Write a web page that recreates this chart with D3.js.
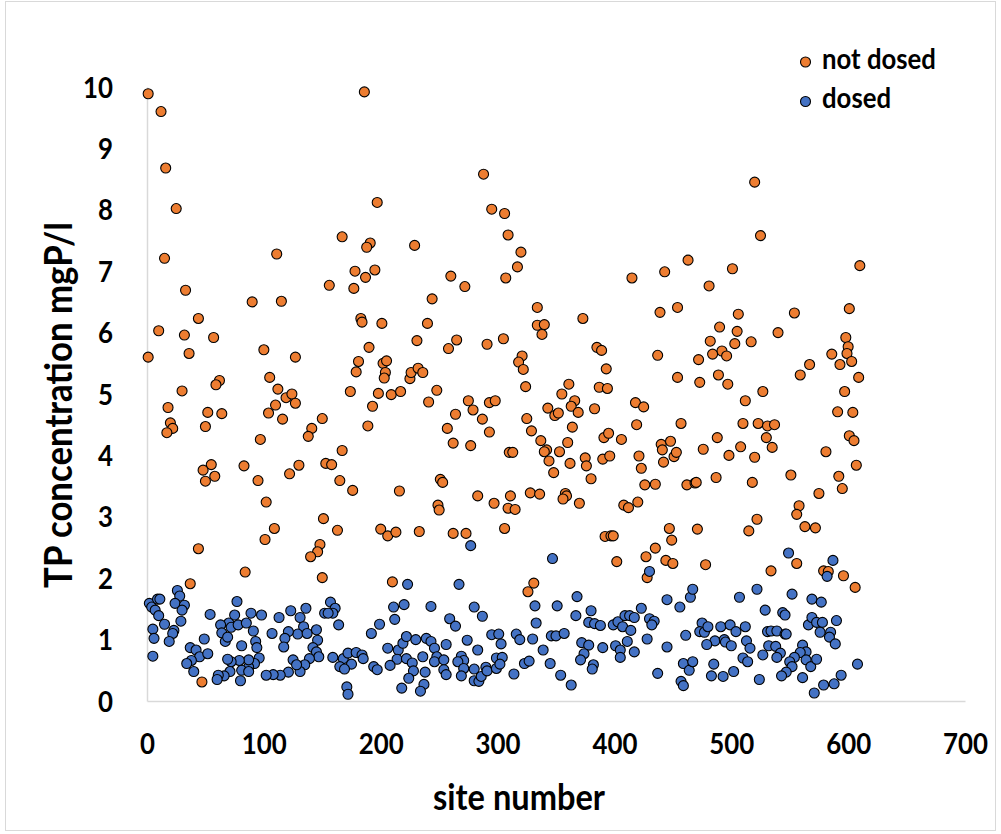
<!DOCTYPE html>
<html>
<head>
<meta charset="utf-8">
<script src="https://cdn.jsdelivr.net/npm/d3@7"></script>
<style>
  html, body { margin: 0; padding: 0; background: #fff; }
  svg { display: block; }
  text { font-family: "Lato", "Open Sans", sans-serif; font-weight: bold; fill: #000; }
</style>
</head>
<body>
<svg id="chart" width="1001" height="834"></svg>
<script>
// ---- data: [site number, TP concentration mgP/l] ----
const notDosed = [
  [1,9.89],[12,9.60],[16,8.68],[25,8.02],[15,7.21],[111,7.28],[33,6.69],[90,6.50],[115,6.51],[44,6.23],
  [10,6.03],[32,5.96],[57,5.92],[1,5.60],[36,5.66],[100,5.72],[127,5.60],[62,5.22],[59,5.15],[105,5.27],
  [30,5.05],[112,5.08],[119,4.94],[124,5.00],
  [18,4.78],[20,4.53],[22,4.44],[17,4.37],[52,4.70],[64,4.68],[50,4.47],[104,4.69],[110,4.82],[116,4.59],
  [127,4.85],[97,4.26],[150,4.60],[141,4.44],[138,4.31],[55,3.85],[48,3.76],[58,3.66],[50,3.58],[83,3.83],
  [95,3.59],[122,3.70],[130,3.84],[153,3.87],[102,3.24],[109,2.81],[101,2.63],[151,2.97],[148,2.55],[146,2.43],
  [140,2.35],[150,2.01],[44,2.48],[84,2.10],[37,1.91],[47,0.31],
  [186,9.92],[288,8.58],[197,8.12],[295,8.01],[306,7.94],[309,7.59],[167,7.56],[191,7.46],[188,7.39],[229,7.42],
  [178,7.00],[195,7.02],[187,6.90],[156,6.77],[177,6.72],[260,6.92],[272,6.75],[307,6.89],[244,6.55],[183,6.23],
  [184,6.17],[201,6.15],[240,6.15],[190,5.76],[231,5.87],[258,5.74],[265,5.88],[291,5.81],[305,5.90],[181,5.53],
  [179,5.36],[202,5.50],[205,5.54],[204,5.35],[203,5.26],[225,5.25],[226,5.35],[232,5.42],[236,5.35],[174,5.04],
  [198,5.01],[209,4.99],[217,5.04],[248,5.06],[241,4.87],[275,4.89],[293,4.86],[298,4.89],[193,4.80],
  [189,4.48],[264,4.67],[279,4.74],[287,4.59],[257,4.44],[293,4.38],[262,4.20],[277,4.16],[167,4.08],[158,3.85],
  [165,3.59],[176,3.43],[216,3.42],[251,3.61],[253,3.56],[249,3.19],[250,3.11],[283,3.34],[297,3.22],[309,3.14],
  [310,4.05],[163,2.78],[200,2.80],[206,2.69],[213,2.75],[233,2.76],[262,2.73],[273,2.73],[306,2.81],[210,1.94],
  [320,7.31],[317,7.07],[415,6.89],[443,6.99],[463,7.18],[334,6.41],[334,6.12],[340,6.13],[338,5.97],[373,6.23],
  [439,6.33],[454,6.41],[385,5.76],[389,5.71],[437,5.63],[321,5.62],[318,5.52],[322,5.40],[393,5.41],[454,5.27],
  [324,5.12],[361,5.16],[355,5.00],[366,4.89],[387,5.11],[394,5.09],
  [418,4.86],[425,4.79],[343,4.77],[349,4.65],[352,4.69],[363,4.80],[369,4.70],[383,4.76],[325,4.60],[329,4.40],
  [364,4.46],[337,4.24],[342,4.09],[340,4.06],[344,3.91],[348,3.72],[353,4.06],[360,4.21],[362,3.87],[375,3.96],
  [376,3.83],[380,3.62],[391,4.29],[395,4.36],[406,4.26],[390,3.94],[396,3.99],[419,4.50],[457,4.52],[421,3.99],
  [423,3.79],[440,4.18],[448,4.23],[441,4.09],[442,3.89],[451,3.98],[453,4.05],[426,3.52],[435,3.53],[462,3.52],
  [469,3.55],[313,4.05],[311,3.34],[315,3.12],[328,3.39],[336,3.37],[358,3.38],[359,3.34],[356,3.29],[370,3.22],
  [408,3.19],[412,3.15],[420,3.24],[392,2.68],[397,2.69],[399,2.69],[447,2.81],[449,2.62],[435,2.49],[427,2.35],
  [402,2.27],[444,2.29],[450,2.24],[428,2.01],[331,1.92],[326,1.78],
  [520,8.45],[525,7.58],[610,7.09],[501,7.04],[481,6.76],[506,6.30],[554,6.32],[601,6.39],[490,6.09],[505,6.02],
  [482,5.86],[503,5.82],[517,5.85],[540,6.00],[492,5.70],[484,5.65],[496,5.62],[472,5.56],[598,5.92],[600,5.77],
  [599,5.66],[603,5.53],[586,5.65],[593,5.48],[567,5.48],[559,5.31],[609,5.27],[473,5.19],[489,5.31],[497,5.16],
  [527,5.04],[512,4.89],[597,5.04],
  [591,4.71],[604,4.70],[510,4.52],[523,4.52],[531,4.48],[537,4.50],[488,4.29],[530,4.29],[601,4.32],[605,4.24],
  [476,4.10],[498,4.00],[508,4.14],[520,3.97],[535,4.13],[581,4.06],[470,3.56],[487,3.64],[518,3.56],[551,3.68],
  [592,3.66],[595,3.46],[607,3.84],[575,3.38],[558,3.18],[556,3.04],[563,2.84],[572,2.82],[471,2.80],[522,2.96],
  [515,2.77],[478,2.22],[556,2.24],[534,2.12],[579,2.12],[583,2.11],[596,2.04],[606,1.85]
];

const dosed = [
  [26,1.80],[28,1.71],[24,1.59],[32,1.56],[30,1.48],[29,1.30],[23,1.15],[22,1.10],[19,0.97],[2,1.59],
  [4,1.53],[9,1.66],[11,1.66],[7,1.48],[10,1.39],[15,1.25],[5,1.17],[6,1.02],[5,0.73],[54,1.41],
  [77,1.62],[75,1.40],[70,1.27],[63,1.24],[64,1.11],[67,0.97],[69,1.04],[72,1.20],[78,1.24],[85,1.27],
  [89,1.43],[98,1.40],[91,1.14],[93,0.97],[94,0.87],[81,0.90],[96,0.70],[92,0.61],[87,0.55],[81,0.50],
  [87,0.67],[79,0.66],[72,0.64],[69,0.68],[71,0.48],[66,0.41],[61,0.42],[60,0.35],[80,0.33],[87,0.48],
  [49,1.01],[37,0.87],[42,0.83],[45,0.72],[52,0.77],[38,0.66],[34,0.61],[40,0.48],[107,1.10],[113,1.36],
  [123,1.47],[136,1.51],[131,1.36],[134,1.21],[129,1.09],[121,1.13],[118,1.02],[117,0.88],[137,1.10],[145,1.16],
  [146,0.99],[142,0.87],[145,0.80],[147,0.72],[139,0.69],[135,0.59],[131,0.48],[125,0.67],[128,0.59],[121,0.47],
  [114,0.42],[108,0.43],[102,0.42],[152,1.43],
  [277,2.53],[223,1.90],[267,1.90],[157,1.61],[161,1.51],[159,1.43],[155,1.43],[164,1.24],[211,1.53],[220,1.57],
  [212,1.33],[199,1.25],[192,1.10],[243,1.54],[259,1.34],[264,1.22],[280,1.53],[287,1.38],[159,0.71],[168,0.69],
  [172,0.78],[175,0.60],[165,0.56],[169,0.52],[179,0.79],[184,0.75],[185,0.69],[194,0.56],[197,0.51],[171,0.23],
  [172,0.11],[206,0.86],[215,0.83],[219,0.94],[222,1.05],[230,1.00],[214,0.68],[222,0.69],[208,0.58],[227,0.62],
  [228,0.49],[224,0.37],[218,0.21],[236,0.72],[238,0.47],[237,0.27],[234,0.16],[239,1.02],[243,0.97],[246,0.86],
  [248,0.72],[246,0.64],[254,0.67],[254,0.51],[256,0.43],[256,0.92],[274,0.99],[283,0.83],[269,0.73],[271,0.66],
  [266,0.64],[271,0.53],[269,0.41],[280,0.52],[280,0.33],[284,0.32],[286,0.40],[290,0.55],[291,0.49],[295,1.08],
  [301,1.09],[303,0.93],[299,0.70],[304,0.71],[299,0.53],[302,0.60],
  [347,2.32],[430,2.11],[368,1.70],[332,1.55],[351,1.55],[333,1.27],[367,1.39],[380,1.47],[378,1.28],[383,1.26],
  [388,1.23],[399,1.24],[403,1.29],[409,1.39],[413,1.39],[417,1.36],[407,1.21],[414,1.15],[423,1.51],[430,1.34],
  [434,1.30],[432,1.24],[445,1.65],[456,1.53],[465,1.69],[467,1.82],[316,1.09],[319,1.00],[330,1.01],[346,1.06],
  [350,1.06],[357,1.10],[339,0.83],[372,0.95],[378,0.91],[374,0.77],[371,0.67],[390,0.87],[401,0.90],[405,0.83],
  [411,0.97],[405,0.71],[417,0.80],[428,1.01],[445,0.88],[461,1.07],[323,0.61],[327,0.65],[345,0.61],[314,0.44],
  [354,0.42],[363,0.26],[382,0.59],[381,0.52],[437,0.45],[459,0.61],[464,0.50],[467,0.64],[457,0.32],[459,0.25],
  [549,2.41],[587,2.29],[582,2.03],[522,1.82],[507,1.69],[552,1.74],[569,1.66],[577,1.61],[529,1.48],[544,1.44],
  [546,1.40],[566,1.24],[569,1.36],[573,1.28],[578,1.28],[590,1.31],[576,1.12],[585,1.12],[584,1.04],[589,0.93],
  [475,1.27],[473,1.13],[477,1.12],[480,1.21],[491,1.21],[499,1.24],[504,1.13],[512,1.21],[486,0.98],[494,1.00],
  [495,0.96],[500,0.90],[479,0.92],[513,0.98],[516,0.86],[531,1.13],[534,1.14],[539,1.14],[546,1.09],[547,1.09],
  [532,0.90],[538,0.89],[542,0.78],[539,0.71],[527,0.75],[510,0.70],[514,0.64],[485,0.60],[483,0.41],[493,0.40],
  [502,0.48],[524,0.35],[561,0.91],[564,0.80],[559,0.79],[554,0.71],[550,0.64],[552,0.56],[547,0.47],[543,0.41],
  [564,0.67],[568,0.56],[573,0.68],[561,0.38],[594,0.42],[588,0.28],[579,0.26],[571,0.13],[608,0.60]
];

const xTicks = [0, 100, 200, 300, 400, 500, 600, 700];
const yTicks = [0, 1, 2, 3, 4, 5, 6, 7, 8, 9, 10];
const seriesNames = ["not dosed", "dosed"];
const xTitle = "site number";
const yTitle = "TP concentration mgP/l";

// ---- layout ----
const svg = d3.select("#chart");
const colors = { "not dosed": "#ED7D31", "dosed": "#4472C4" };
const K = 1.12; // vertical stretch of text (condensed look of the original font)

const x = d3.scaleLinear().domain([0, 700]).range([147, 965]);
const y = d3.scaleLinear().domain([0, 10]).range([701, 87]);

// outer chart border
svg.append("rect")
  .attr("x", 5.5).attr("y", 1.5).attr("width", 990).attr("height", 829)
  .attr("fill", "none").attr("stroke", "#d9d9d9").attr("stroke-width", 1);

function fitWidth(sel, w) {
  const len = sel.node().getComputedTextLength();
  const fs = parseFloat(sel.attr("font-size"));
  sel.attr("font-size", (fs * w / len).toFixed(2));
}

// axes (lines only, no tick marks)
const xAxis = d3.axisBottom(x).tickValues(xTicks).tickSize(0).tickPadding(0).tickFormat(d3.format("d"));
const gx = svg.append("g").attr("transform", `translate(0,${y(0)})`).call(xAxis);
gx.select(".domain").attr("stroke", "#d9d9d9").attr("stroke-width", 1.5);
gx.selectAll(".tick text")
  .attr("y", 0).attr("dy", null)
  .attr("transform", `translate(0,53) scale(1,${K})`)
  .attr("font-size", 26).attr("font-family", null).attr("fill", "#000");

const yAxis = d3.axisLeft(y).tickValues(yTicks).tickSize(0).tickPadding(0).tickFormat(d3.format("d"));
const gy = svg.append("g").attr("transform", `translate(${x(0)},0)`).call(yAxis);
gy.select(".domain").attr("stroke", "#d9d9d9").attr("stroke-width", 1.5);
gy.selectAll(".tick text")
  .attr("x", 0).attr("dy", null)
  .attr("transform", `translate(-34,10) scale(1,${K})`)
  .attr("font-size", 26).attr("font-family", null).attr("fill", "#000");
svg.selectAll(".tick text").attr("font-weight", "bold");

// fit tick label sizes to the reference width of "100" (45 px)
{
  const t = gx.selectAll(".tick text").filter(d => d === 100);
  const len = t.node().getComputedTextLength();
  const fs = 26 * 45 / len;
  svg.selectAll(".tick text").attr("font-size", fs.toFixed(2));
}

// points
function drawSeries(data, name) {
  svg.append("g").selectAll("circle")
    .data(data)
    .join("circle")
    .attr("cx", d => x(d[0]))
    .attr("cy", d => y(d[1]))
    .attr("r", 5)
    .attr("fill", colors[name])
    .attr("stroke", "#000")
    .attr("stroke-width", 1.1);
}
drawSeries(notDosed, "not dosed");
drawSeries(dosed, "dosed");

// axis titles
const xt = svg.append("text")
  .attr("transform", `translate(519,810) scale(1,${K})`)
  .attr("text-anchor", "middle")
  .attr("font-size", 30).text(xTitle);
fitWidth(xt, 172);

const yt = svg.append("text")
  .attr("transform", `translate(72,405) rotate(-90) scale(1,${K})`)
  .attr("text-anchor", "middle")
  .attr("font-size", 30).text(yTitle);
fitWidth(yt, 366);

// legend
const legend = svg.append("g");
const legendY = [62, 101.5];
seriesNames.forEach((name, i) => {
  legend.append("circle")
    .attr("cx", 805.5).attr("cy", legendY[i]).attr("r", 5)
    .attr("fill", colors[name]).attr("stroke", "#000").attr("stroke-width", 1.1);
  const t = legend.append("text")
    .attr("transform", `translate(822,${legendY[i] + 6.5}) scale(1,${K})`)
    .attr("font-size", 24).text(name);
  if (i === 0) fitWidth(t, 114);
});
legend.selectAll("text").attr("font-size", legend.select("text").attr("font-size"));
</script>
</body>
</html>
